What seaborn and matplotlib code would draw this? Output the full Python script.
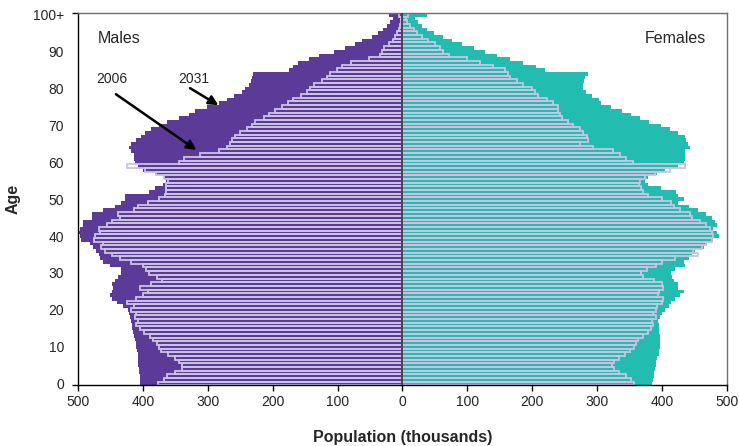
import matplotlib
matplotlib.use('Agg')
import matplotlib.pyplot as plt
from matplotlib.ticker import FuncFormatter
import seaborn as sns
import numpy as np
import pandas as pd

# population in thousands, ages 0..100+
ages = list(range(0, 101))

males_2031 = [405, 405, 405, 406, 406, 407, 407, 408, 408, 409,
              410, 411, 412, 414, 415, 416, 417, 418, 420, 421,
              423, 430, 440, 448, 450, 448, 446, 447, 443, 438,
              433, 433, 451, 461, 466, 468, 472, 477, 482, 495,
              497, 500, 497, 492, 492, 479, 478, 461, 443, 433,
              428, 427, 391, 381, 369, 364, 368, 382, 400, 407,
              412, 413, 414, 418, 422, 418, 410, 403, 397, 388,
              375, 363, 345, 329, 319, 301, 283, 270, 260, 247,
              242, 236, 233, 232, 231, 175, 168, 161, 144, 129,
              106, 88, 73, 62, 47, 38, 30, 24, 19, 15,
              21]

males_2006 = [376, 368, 363, 351, 340, 340, 345, 350, 361, 372,
              375, 379, 384, 389, 398, 405, 410, 408, 412, 410,
              418, 414, 425, 410, 400, 392, 405, 388, 370, 379,
              390, 395, 400, 418, 436, 448, 459, 464, 461, 475,
              473, 466, 468, 456, 448, 436, 438, 414, 407, 392,
              375, 366, 364, 364, 365, 362, 367, 380, 397, 424,
              345, 336, 312, 282, 270, 265, 262, 258, 250, 239,
              232, 227, 214, 206, 196, 186, 176, 168, 157, 147,
              142, 137, 124, 117, 111, 101, 93, 80, 52, 34,
              31, 29, 21, 14, 11, 9, 6, 4, 3, 2,
              5]

females_2031 = [385, 386, 387, 387, 389, 390, 390, 392, 395, 395,
                396, 396, 397, 396, 395, 395, 395, 393, 397, 400,
                405, 410, 414, 420, 428, 433, 425, 425, 418, 415,
                413, 420, 436, 433, 441, 446, 451, 464, 469, 479,
                487, 485, 479, 485, 482, 477, 468, 456, 441, 425,
                433, 425, 422, 399, 378, 373, 378, 392, 405, 425,
                433, 435, 435, 435, 443, 440, 437, 435, 425, 412,
                398, 380, 366, 352, 338, 322, 306, 302, 292, 282,
                278, 278, 279, 281, 286, 220, 205, 185, 165, 145,
                127, 110, 92, 76, 62, 48, 38, 30, 24, 19,
                38]

females_2006 = [357, 352, 345, 334, 326, 323, 326, 333, 343, 351,
                356, 359, 363, 370, 378, 383, 386, 384, 390, 386,
                390, 392, 400, 402, 393, 395, 402, 400, 387, 370,
                367, 377, 390, 400, 420, 456, 448, 461, 467, 477,
                479, 477, 474, 467, 459, 446, 443, 428, 418, 413,
                400, 378, 370, 367, 364, 366, 374, 389, 412, 435,
                355, 345, 335, 325, 294, 273, 286, 284, 278, 273,
                263, 255, 245, 243, 240, 240, 232, 222, 209, 204,
                199, 186, 176, 166, 163, 158, 140, 120, 99, 72,
                63, 58, 50, 40, 30, 22, 17, 12, 7, 5,
                8]

xticks = [-500, -400, -300, -200, -100, 0, 100, 200, 300, 400, 500]
yticks = [0, 10, 20, 30, 40, 50, 60, 70, 80, 90, 100]
ylabels = ['0', '10', '20', '30', '40', '50', '60', '70', '80', '90', '100+']

purple = '#5c3a97'
teal = '#22bdb0'
outline = '#cdc3e3'

df31 = pd.DataFrame({
    'age': ages * 2,
    'pop': [-v for v in males_2031] + females_2031,
    'sex': ['Males'] * len(ages) + ['Females'] * len(ages),
})
df06 = pd.DataFrame({
    'age': ages * 2,
    'pop': [-v for v in males_2006] + females_2006,
    'sex': ['Males'] * len(ages) + ['Females'] * len(ages),
})

sns.set_style('ticks')
plt.rcParams['font.family'] = ['Liberation Sans', 'DejaVu Sans']

fig, ax = plt.subplots(figsize=(7.39, 4.46), dpi=100)
fig.subplots_adjust(left=0.1055, right=0.9838, bottom=0.1357, top=0.9709)

# 2031 - solid bars
sns.barplot(data=df31, x='pop', y='age', hue='sex', orient='y',
            native_scale=True, width=1, dodge=False, errorbar=None,
            palette={'Males': purple, 'Females': teal}, saturation=1,
            linewidth=0, legend=False, ax=ax)

# 2006 - outlined bars on top
sns.barplot(data=df06, x='pop', y='age', hue='sex', orient='y',
            native_scale=True, width=1, dodge=False, errorbar=None,
            palette={'Males': outline, 'Females': outline}, saturation=1,
            fill=False, linewidth=1.3, legend=False, ax=ax)

ax.axvline(0, color='#3a3a3a', lw=1.3, zorder=5)

ax.set_xlim(-500, 500)
ax.set_ylim(-0.5, 100.5)
ax.set_xticks(xticks)
ax.xaxis.set_major_formatter(FuncFormatter(lambda v, p: '%d' % abs(v)))
ax.set_yticks(yticks)
ax.set_yticklabels(ylabels)
ax.set_yticks([-0.5, 100.5], minor=True)
ax.tick_params(axis='x', length=4, width=1, pad=3, labelsize=10, color='black')
ax.tick_params(axis='y', which='major', length=0, pad=10, labelsize=10)
ax.tick_params(axis='y', which='minor', length=4, width=1, color='black')

for s in ['left', 'bottom']:
    ax.spines[s].set_color('black')
    ax.spines[s].set_linewidth(1.0)
for s in ['top', 'right']:
    ax.spines[s].set_color('#707070')
    ax.spines[s].set_linewidth(1.0)

ax.set_xlabel('Population (thousands)', fontsize=11.5, fontweight='bold', labelpad=15)
ax.set_ylabel('Age', fontsize=11.5, fontweight='bold', labelpad=9)

ax.text(-469, 93.6, 'Males', fontsize=11.5, ha='left', va='center')
ax.text(468, 93.6, 'Females', fontsize=11.5, ha='right', va='center')
ax.text(-472, 82.7, '2006', fontsize=10, ha='left', va='center')
ax.text(-346, 82.7, '2031', fontsize=10, ha='left', va='center')
ax.annotate('', xy=(-314, 62.9), xytext=(-445, 78.9),
            arrowprops=dict(arrowstyle='-|>', color='black', lw=1.8, mutation_scale=14))
ax.annotate('', xy=(-280, 75.1), xytext=(-331, 80.5),
            arrowprops=dict(arrowstyle='-|>', color='black', lw=1.8, mutation_scale=14))

fig.savefig('out.png', dpi=100)
